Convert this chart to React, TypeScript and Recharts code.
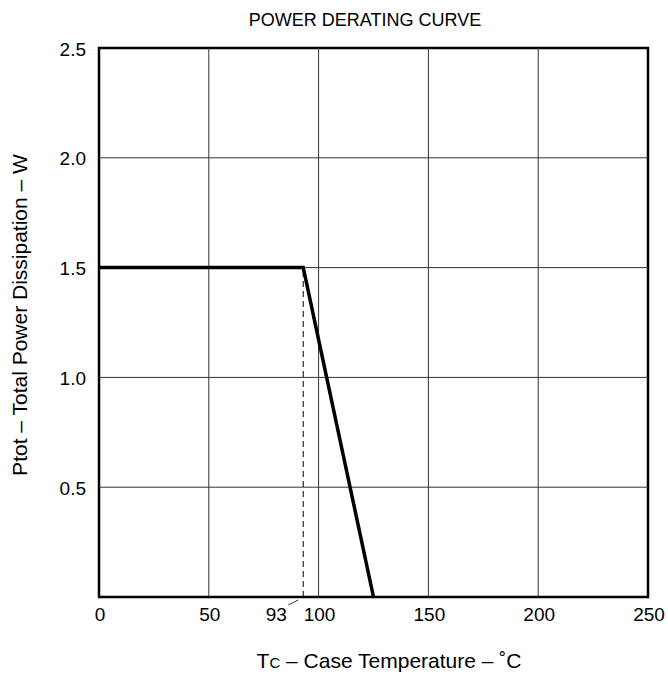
import React from "react";
import { LineChart, Line, XAxis, YAxis, ReferenceLine, ReferenceArea } from "recharts";

const title = "POWER DERATING CURVE";
const xAxisTitle = ["T", "C", " – Case Temperature – ˚C"];
const yAxisTitle = "Ptot – Total Power Dissipation – W";
const xTicks = [0, 50, 93, 100, 150, 200, 250];
const yTicks = [0.5, 1.0, 1.5, 2.0, 2.5];
const xGrid = [50, 100, 150, 200];
const yGrid = [0.5, 1.0, 1.5, 2.0];
const kneeTemp = 93;
const deratingCurve = [
  { t: 0, p: 1.5 },
  { t: 93, p: 1.5 },
  { t: 125, p: 0 },
];
const kneeMarker = [
  { t: 93, p: 0 },
  { t: 93, p: 1.5 },
];

const FONT = "'Liberation Sans', Arial, Helvetica, sans-serif";
const TICK_FS = 19;

const XTick = (props: any) => {
  const { x, y, payload } = props;
  if (payload.value === kneeTemp) {
    return (
      <g>
        <text x={x - 27} y={y + 24} textAnchor="middle" fontSize={TICK_FS} fontFamily={FONT} fill="#000">
          {payload.value}
        </text>
        <line x1={x - 15} y1={y + 8} x2={x - 5} y2={y + 3} stroke="#000" strokeWidth={0.8} />
      </g>
    );
  }
  return (
    <text x={x + 1} y={y + 24} textAnchor="middle" fontSize={TICK_FS} fontFamily={FONT} fill="#000">
      {payload.value}
    </text>
  );
};

const YTick = (props: any) => {
  const { x, y, payload } = props;
  return (
    <text x={x - 13} y={y + 7.5} textAnchor="end" fontSize={TICK_FS} fontFamily={FONT} fill="#000">
      {Number(payload.value).toFixed(1)}
    </text>
  );
};

export default function App() {
  return (
    <div style={{ position: "absolute", left: 0, top: 0, width: 668, height: 682, background: "#fff" }}>
      <LineChart width={668} height={682} margin={{ top: 48, right: 20, bottom: 45, left: 39 }}>
        <XAxis
          type="number"
          dataKey="t"
          domain={[0, 250]}
          ticks={xTicks}
          interval={0}
          tick={<XTick />}
          tickLine={false}
          axisLine={false}
          tickSize={0}
          tickMargin={0}
          height={40}
          allowDataOverflow
        />
        <YAxis
          type="number"
          dataKey="p"
          domain={[0, 2.5]}
          ticks={yTicks}
          interval={0}
          tick={<YTick />}
          tickLine={false}
          axisLine={false}
          tickSize={0}
          tickMargin={0}
          width={60}
          allowDataOverflow
        />
        {xGrid.map((v) => (
          <ReferenceLine key={"x" + v} x={v} stroke="#333" strokeWidth={1} />
        ))}
        {yGrid.map((v) => (
          <ReferenceLine key={"y" + v} y={v} stroke="#333" strokeWidth={1} />
        ))}
        <Line
          data={kneeMarker}
          dataKey="p"
          stroke="#000"
          strokeWidth={1}
          strokeDasharray="6 4"
          dot={false}
          isAnimationActive={false}
        />
        <Line
          data={deratingCurve}
          dataKey="p"
          stroke="#000"
          strokeWidth={3.5}
          dot={false}
          isAnimationActive={false}
        />
        <ReferenceArea x1={0} x2={250} y1={0} y2={2.5} fill="none" stroke="#000" strokeWidth={2.5} />
      </LineChart>
      <svg
        width={668}
        height={682}
        style={{ position: "absolute", left: 0, top: 0, pointerEvents: "none" }}
        fontFamily={FONT}
      >
        <text x={365} y={26} textAnchor="middle" fontSize={18} fill="#000">
          {title}
        </text>
        <text x={389} y={668} textAnchor="middle" fontSize={21} fill="#000">
          {xAxisTitle[0]}
          <tspan fontSize={15}>{xAxisTitle[1]}</tspan>
          {xAxisTitle[2]}
        </text>
        <text x={27} y={315} textAnchor="middle" fontSize={21} fill="#000" transform="rotate(-90, 27, 315)">
          {yAxisTitle}
        </text>
      </svg>
    </div>
  );
}
